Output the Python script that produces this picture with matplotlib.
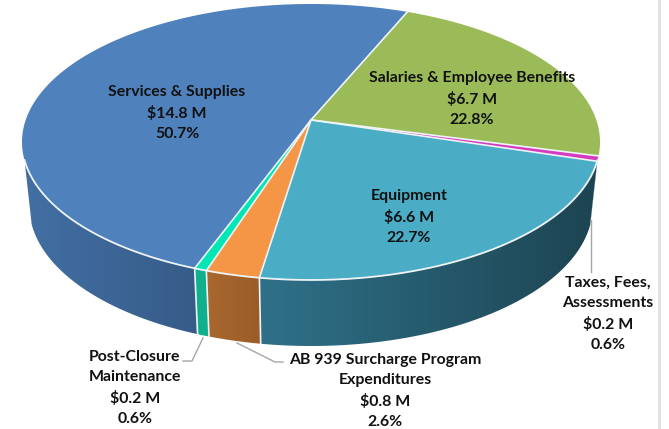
import numpy as np
import matplotlib
matplotlib.use("Agg")
import matplotlib.pyplot as plt
from matplotlib.colors import to_rgb, LinearSegmentedColormap
from matplotlib.patches import Polygon

# values, clockwise from the top right edge of services
names = ["Salaries & Employee Benefits", "Taxes, Fees, Assessments", "Equipment",
         "AB 939 Surcharge Program Expenditures", "Post-Closure Maintenance", "Services & Supplies"]
percents = [22.8, 0.6, 22.7, 2.6, 0.6, 50.7]
amounts = [6.7, 0.2, 6.6, 0.8, 0.2, 14.8]
top_colors = ["#9bbb59", "#d63ac0", "#4bacc6", "#f59647", "#00e6b4", "#4f81bd"]
side_left = ["#1d4452", "#1d4452", "#2f7189", "#a8682f", "#0fb08e", "#436fa3"]
side_right = ["#1d4452", "#1d4452", "#1d4452", "#9c5c28", "#0fb08e", "#365b88"]

start_angle = 22.8
cx, cy, rx, ry = 311, 142, 289, 138
tilt = -0.16
# bottom rim of the wall, slightly smaller than the top
bottom_scale = 0.975
bottom_cy, bottom_ry = 206, 140
wall_top_y = 160


# disc angle (deg clockwise from top) to screen position, with a bit of perspective
def project(angle, r=1.0):
    a = np.radians(angle)
    u = r * np.sin(a)
    w = -r * np.cos(a)
    d = 1 + tilt * w
    x = cx + rx * u * np.sqrt(1 - tilt ** 2) / d
    y = cy + ry * (w + tilt) / d
    return x, y


def project_bottom(x):
    u = np.clip((x - cx) / rx, -1, 1)
    return cx + (x - cx) * bottom_scale, bottom_cy + bottom_ry * np.sqrt(1 - u ** 2)


def main():
    fig = plt.figure(figsize=(6.69, 4.29), dpi=100)
    ax = fig.add_axes([0, 0, 1, 1])

    total = sum(percents)
    edges = start_angle + np.cumsum([0] + percents) * 360 / total

    # side walls first, only the front facing part shows
    for i in range(len(percents)):
        t = np.linspace(edges[i], edges[i + 1], 300)
        x, y = project(t)
        keep = (y > wall_top_y) & (t < 270)
        if keep.sum() < 2:
            continue
        x, y = x[keep], y[keep]
        bx, by = project_bottom(x)
        poly = Polygon(np.c_[np.r_[x, bx[::-1]], np.r_[y, by[::-1]]], closed=True,
                       transform=ax.transData, facecolor="none", edgecolor="none")
        ax.add_patch(poly)
        left, right = min(x.min(), bx.min()), max(x.max(), bx.max())
        cmap = LinearSegmentedColormap.from_list("wall", [to_rgb(side_left[i]), to_rgb(side_right[i])])
        im = ax.imshow(np.linspace(0, 1, 256).reshape(1, -1), cmap=cmap, aspect="auto",
                       extent=(left, right, 429, 0), zorder=1)
        im.set_clip_path(poly)

    # top face
    ax0, ay0 = project(0, 0.0)
    for i in range(len(percents)):
        t = np.linspace(edges[i], edges[i + 1], 200)
        x, y = project(t)
        ax.fill(np.r_[ax0, x], np.r_[ay0, y], facecolor=top_colors[i],
                edgecolor="none", zorder=2)

    # white seams on the top face and down the front
    t = np.linspace(60, 300, 800)
    x, y = project(t)
    keep = y > wall_top_y
    ax.plot(x[keep], y[keep], color="#eef4f6", lw=1.3, zorder=3)
    for e in edges[:-1]:
        x, y = project(e)
        ax.plot([ax0, x], [ay0, y], color="#eef4f6", lw=1.2, zorder=3)
        if 120 < (e % 360) < 240:
            bx, by = project_bottom(x)
            ax.plot([x, bx], [y, by], color="#eef4f6", lw=1.2, zorder=3)

    # leader lines
    ax.plot([591, 591], [220, 272], color="#a6a6a6", lw=1, zorder=4)
    ax.plot([203, 192, 183], [338, 361, 361], color="#a6a6a6", lw=1, zorder=4)
    ax.plot([237, 275, 283], [343, 362, 362], color="#a6a6a6", lw=1, zorder=4)

    # strip at the right side of the screenshot
    ax.fill_betweenx([0, 429], 658, 661, color="#e3e3e3", lw=0, zorder=0)

    labels = [
        (472, 99, "Salaries & Employee Benefits"),
        (608, 314, "Taxes, Fees,\nAssessments"),
        (409, 217, "Equipment"),
        (385, 391, "AB 939 Surcharge Program\nExpenditures"),
        (135, 388, "Post-Closure\nMaintenance"),
        (177, 113, "Services & Supplies"),
    ]
    for i, (lx, ly, head) in enumerate(labels):
        txt = head + "\n\\$%.1f M\n%.1f%%" % (amounts[i], percents[i])
        ax.text(lx, ly, txt, ha="center", va="center", fontsize=11.4,
                family="Lato", weight="bold", color="#111111",
                linespacing=1.56, zorder=5)

    ax.set_xlim(0, 669)
    ax.set_ylim(429, 0)
    ax.axis("off")
    fig.savefig("out.png", dpi=100)


if __name__ == "__main__":
    main()
